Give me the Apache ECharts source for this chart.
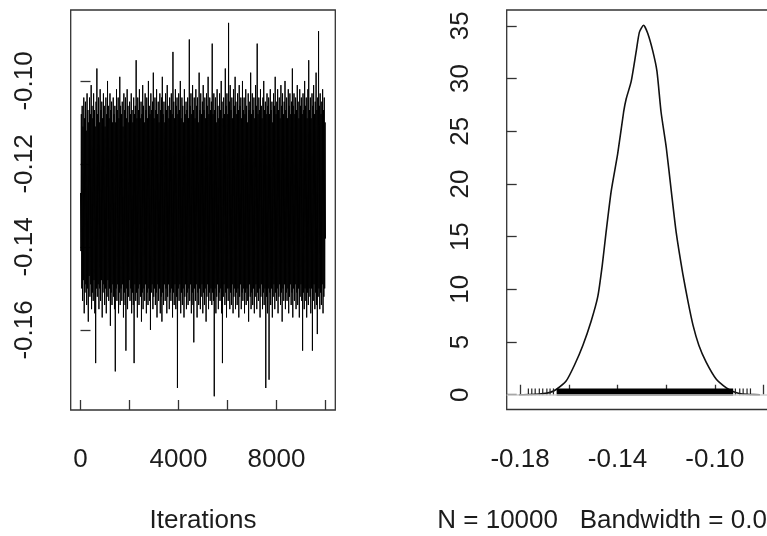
<!DOCTYPE html>
<html>
<head>
<meta charset="utf-8">
<script src="https://cdn.jsdelivr.net/npm/echarts@6/dist/echarts.min.js"></script>
<style>
html,body{margin:0;padding:0;background:#fff;}
#chart{width:767px;height:536px;}
</style>
</head>
<body>
<div id="chart"></div>
<script>
// ---- Data ----
// Trace plot (left): MCMC draws over iterations 1..10000 (thinned for display)
const traceFirstIter = 1;
const traceLastIter = 10000;
const traceValues = [
-0.127,-0.141,-0.108,-0.150,-0.106,-0.153,-0.111,-0.148,-0.104,-0.156,-0.109,-0.151,-0.105,-0.149,-0.112,-0.154,-0.103,-0.150,-0.107,-0.158,
-0.110,-0.147,-0.104,-0.152,-0.108,-0.149,-0.101,-0.155,-0.106,-0.151,-0.109,-0.153,-0.103,-0.148,-0.107,-0.156,-0.111,-0.168,-0.105,-0.150,
-0.097,-0.152,-0.108,-0.149,-0.104,-0.155,-0.110,-0.150,-0.102,-0.153,-0.107,-0.148,-0.105,-0.157,-0.109,-0.151,-0.103,-0.149,-0.106,-0.154,
-0.111,-0.150,-0.104,-0.156,-0.108,-0.152,-0.100,-0.148,-0.106,-0.153,-0.109,-0.150,-0.103,-0.159,-0.107,-0.151,-0.105,-0.154,-0.110,-0.149,
-0.104,-0.152,-0.108,-0.155,-0.106,-0.170,-0.110,-0.150,-0.102,-0.153,-0.107,-0.149,-0.104,-0.156,-0.109,-0.151,-0.099,-0.154,-0.106,-0.150,
-0.108,-0.153,-0.105,-0.149,-0.111,-0.157,-0.103,-0.151,-0.107,-0.154,-0.104,-0.165,-0.109,-0.150,-0.102,-0.155,-0.106,-0.152,-0.110,-0.148,
-0.105,-0.153,-0.108,-0.150,-0.103,-0.156,-0.107,-0.151,-0.110,-0.154,-0.104,-0.168,-0.108,-0.149,-0.106,-0.153,-0.095,-0.151,-0.109,-0.157,
-0.104,-0.150,-0.107,-0.154,-0.102,-0.149,-0.109,-0.152,-0.105,-0.158,-0.108,-0.151,-0.101,-0.155,-0.106,-0.150,-0.110,-0.153,-0.103,-0.149,
-0.107,-0.156,-0.104,-0.151,-0.109,-0.154,-0.100,-0.150,-0.106,-0.153,-0.108,-0.160,-0.103,-0.151,-0.107,-0.149,-0.105,-0.155,-0.098,-0.152,
-0.109,-0.150,-0.104,-0.154,-0.107,-0.151,-0.102,-0.157,-0.108,-0.149,-0.105,-0.153,-0.110,-0.150,-0.103,-0.156,-0.107,-0.152,-0.104,-0.158,
-0.099,-0.151,-0.108,-0.154,-0.105,-0.149,-0.110,-0.153,-0.103,-0.150,-0.107,-0.156,-0.101,-0.152,-0.106,-0.149,-0.109,-0.155,-0.104,-0.151,
-0.107,-0.153,-0.103,-0.150,-0.108,-0.157,-0.093,-0.151,-0.105,-0.154,-0.109,-0.149,-0.102,-0.155,-0.106,-0.152,-0.104,-0.174,-0.108,-0.150,
-0.103,-0.153,-0.107,-0.149,-0.100,-0.156,-0.109,-0.151,-0.104,-0.154,-0.106,-0.150,-0.110,-0.157,-0.102,-0.152,-0.108,-0.149,-0.105,-0.155,
-0.107,-0.151,-0.104,-0.154,-0.109,-0.150,-0.090,-0.153,-0.106,-0.149,-0.103,-0.156,-0.108,-0.151,-0.101,-0.154,-0.107,-0.163,-0.104,-0.150,
-0.109,-0.153,-0.102,-0.149,-0.106,-0.157,-0.104,-0.151,-0.110,-0.154,-0.098,-0.150,-0.107,-0.155,-0.103,-0.152,-0.108,-0.149,-0.105,-0.156,
-0.101,-0.151,-0.107,-0.154,-0.104,-0.150,-0.109,-0.158,-0.103,-0.152,-0.106,-0.149,-0.099,-0.155,-0.108,-0.151,-0.104,-0.153,-0.107,-0.150,
-0.105,-0.154,-0.091,-0.151,-0.108,-0.153,-0.103,-0.176,-0.107,-0.150,-0.104,-0.156,-0.110,-0.152,-0.102,-0.149,-0.106,-0.155,-0.109,-0.151,
-0.103,-0.153,-0.107,-0.150,-0.100,-0.156,-0.105,-0.168,-0.109,-0.152,-0.104,-0.149,-0.108,-0.154,-0.097,-0.151,-0.106,-0.157,-0.103,-0.150,
-0.108,-0.153,-0.086,-0.150,-0.105,-0.155,-0.101,-0.151,-0.107,-0.154,-0.104,-0.149,-0.109,-0.156,-0.102,-0.152,-0.106,-0.150,-0.099,-0.155,
-0.105,-0.151,-0.108,-0.154,-0.103,-0.150,-0.107,-0.157,-0.101,-0.152,-0.106,-0.149,-0.104,-0.155,-0.109,-0.151,-0.100,-0.153,-0.107,-0.150,
-0.104,-0.156,-0.108,-0.151,-0.102,-0.154,-0.106,-0.150,-0.110,-0.153,-0.103,-0.158,-0.107,-0.149,-0.105,-0.152,-0.098,-0.155,-0.108,-0.151,
-0.103,-0.154,-0.107,-0.150,-0.104,-0.156,-0.109,-0.152,-0.101,-0.149,-0.106,-0.155,-0.091,-0.151,-0.108,-0.153,-0.104,-0.150,-0.107,-0.157,
-0.102,-0.152,-0.106,-0.149,-0.109,-0.155,-0.104,-0.151,-0.100,-0.154,-0.107,-0.150,-0.105,-0.174,-0.108,-0.152,-0.103,-0.156,-0.106,-0.150,
-0.104,-0.172,-0.108,-0.151,-0.102,-0.154,-0.107,-0.150,-0.105,-0.157,-0.110,-0.152,-0.103,-0.149,-0.106,-0.155,-0.099,-0.151,-0.108,-0.153,
-0.105,-0.150,-0.102,-0.156,-0.107,-0.152,-0.104,-0.149,-0.109,-0.154,-0.101,-0.151,-0.106,-0.158,-0.103,-0.150,-0.108,-0.153,-0.105,-0.149,
-0.100,-0.155,-0.107,-0.151,-0.104,-0.153,-0.109,-0.150,-0.102,-0.156,-0.106,-0.152,-0.103,-0.149,-0.108,-0.154,-0.105,-0.151,-0.097,-0.157,
-0.106,-0.150,-0.103,-0.153,-0.108,-0.149,-0.104,-0.155,-0.107,-0.151,-0.101,-0.154,-0.105,-0.150,-0.109,-0.157,-0.102,-0.152,-0.106,-0.149,
-0.104,-0.153,-0.108,-0.165,-0.103,-0.151,-0.107,-0.155,-0.100,-0.150,-0.106,-0.153,-0.104,-0.157,-0.109,-0.151,-0.102,-0.154,-0.095,-0.150,
-0.107,-0.152,-0.104,-0.156,-0.109,-0.150,-0.103,-0.165,-0.106,-0.153,-0.101,-0.149,-0.108,-0.155,-0.105,-0.151,-0.098,-0.154,-0.107,-0.161,
-0.104,-0.152,-0.088,-0.150,-0.106,-0.155,-0.103,-0.151,-0.108,-0.154,-0.105,-0.149,-0.102,-0.156,-0.107,-0.152,-0.104,-0.150,-0.110,-0.138
];
const traceXTicks = [0, 2000, 4000, 6000, 8000, 10000];
const traceXLabels = [0, 4000, 8000];
const traceYTicks = [-0.16, -0.14, -0.12, -0.10];
const traceXLabel = 'Iterations';

// Density plot (right)
const densX = [-0.1805,-0.176,-0.172,-0.168,-0.1652,-0.1611,-0.1577,-0.1542,-0.1508,-0.1481,
  -0.1463,-0.1447,-0.1426,-0.1399,-0.1375,-0.1364,-0.1344,-0.1323,-0.1310,-0.1293,
  -0.1276,-0.1255,-0.1238,-0.1221,-0.1200,-0.1179,-0.1159,-0.1132,-0.1111,-0.1090,
  -0.1066,-0.1036,-0.0995,-0.0953,-0.0926,-0.090,-0.087,-0.084,-0.0815];
const densY = [0.003,0.02,0.07,0.2,0.5,1.3,2.8,4.7,7.0,9.3,
  12.2,15.4,19.3,22.9,26.8,28.1,29.7,32.6,34.4,35.05,
  34.3,32.6,30.7,26.8,23.5,19.3,15.4,11.5,8.9,6.6,
  4.7,3.1,1.5,0.65,0.3,0.12,0.04,0.01,0.003];
// rug of observations: dense core range and sparse tail observations
const rugCore = [-0.1650, -0.0925];
const rugTails = [-0.1766,-0.1752,-0.1738,-0.1721,-0.1707,-0.1690,-0.1677,-0.1663,
  -0.0916,-0.0898,-0.0884,-0.0868,-0.0854];
const densXTicks = [-0.18, -0.16, -0.14, -0.12, -0.10, -0.08];
const densXLabels = [-0.18, -0.14, -0.10];
const densYTicks = [0, 5, 10, 15, 20, 25, 30, 35];
const densN = 10000;
const densBandwidth = '0.001582';

// ---- Chart ----
const FONT = '"Liberation Sans", Arial, Helvetica, sans-serif';
const TXT = '#1c1c1c';
const LINE = '#333';
const FS = 26;

const tracePts = traceValues.map((v, i) => [
  traceFirstIter + i * (traceLastIter - traceFirstIter) / (traceValues.length - 1), v
]);
const densPts = densX.map((x, i) => [x, densY[i]]);

function axisCommon(tickVals, labelVals, fmt, isY) {
  return {
    axisLine: { show: false },
    splitLine: { show: false },
    axisTick: { show: true, inside: true, length: 10, customValues: tickVals,
      lineStyle: { color: LINE, width: 1.3 } },
    axisLabel: { show: true, customValues: labelVals, formatter: fmt,
      color: TXT, fontSize: FS, fontFamily: FONT, margin: isY ? 33 : 37,
      rotate: isY ? 90 : 0, showMinLabel: true, showMaxLabel: true },
    nameTextStyle: { color: TXT, fontSize: FS, fontFamily: FONT }
  };
}

const option = {
  animation: false,
  backgroundColor: '#fff',
  grid: [
    { left: 70.7, top: 10, width: 264.6, height: 400, show: true,
      containLabel: false, outerBoundsMode: 'none',
      borderColor: LINE, borderWidth: 1.3, backgroundColor: 'transparent' },
    { left: 506.7, top: 10, width: 263, height: 399.5, show: true,
      containLabel: false, outerBoundsMode: 'none',
      borderColor: LINE, borderWidth: 1.3, backgroundColor: 'transparent' }
  ],
  xAxis: [
    Object.assign({ type: 'value', gridIndex: 0, min: -400, max: 10400,
      name: traceXLabel, nameLocation: 'middle', nameGap: 98 },
      axisCommon(traceXTicks, traceXLabels, v => String(v), false)),
    Object.assign({ type: 'value', gridIndex: 1, min: -0.1855, max: -0.0775,
      name: 'N = ' + densN + '   Bandwidth = ' + densBandwidth,
      nameLocation: 'middle', nameGap: 98 },
      axisCommon(densXTicks, densXLabels, v => Number(v).toFixed(2), false))
  ],
  yAxis: [
    Object.assign({ type: 'value', gridIndex: 0, min: -0.1793, max: -0.0829 },
      axisCommon(traceYTicks, traceYTicks, v => Number(v).toFixed(2), true)),
    Object.assign({ type: 'value', gridIndex: 1, min: -1.4, max: 36.5 },
      axisCommon(densYTicks, densYTicks, v => String(v), true))
  ],
  series: [
    { type: 'line', xAxisIndex: 0, yAxisIndex: 0, data: tracePts,
      showSymbol: false, symbol: 'none', silent: true,
      lineStyle: { color: '#000', width: 1 } },
    { type: 'line', xAxisIndex: 1, yAxisIndex: 1, data: densPts,
      showSymbol: false, symbol: 'none', silent: true, smooth: 0.2, z: 3,
      lineStyle: { color: '#111', width: 1.6 },
      markLine: { silent: true, symbol: ['none', 'none'], label: { show: false },
        lineStyle: { color: '#cfcfcf', width: 1.6, type: 'solid' },
        data: [{ yAxis: 0 }] } },
    { type: 'custom', xAxisIndex: 1, yAxisIndex: 1, z: 4, silent: true,
      data: [[rugCore[0], rugCore[1]]],
      renderItem: function (params, api) {
        const p0 = api.coord([api.value(0), 0]);
        const p1 = api.coord([api.value(1), 0.6]);
        return { type: 'rect', shape: { x: p0[0], y: p1[1], width: p1[0] - p0[0], height: p0[1] - p1[1] + 1 },
          style: { fill: '#000' } };
      } },
    { type: 'custom', xAxisIndex: 1, yAxisIndex: 1, z: 4, silent: true,
      data: rugTails.map(v => [v]),
      renderItem: function (params, api) {
        const p0 = api.coord([api.value(0), 0]);
        const p1 = api.coord([api.value(0), 0.6]);
        return { type: 'line', shape: { x1: p0[0], y1: p0[1] + 0.5, x2: p1[0], y2: p1[1] },
          style: { stroke: '#222', lineWidth: 1.2 } };
      } }
  ]
};

const chart = echarts.init(document.getElementById('chart'), null, { renderer: 'canvas' });
chart.setOption(option);
</script>
</body>
</html>
